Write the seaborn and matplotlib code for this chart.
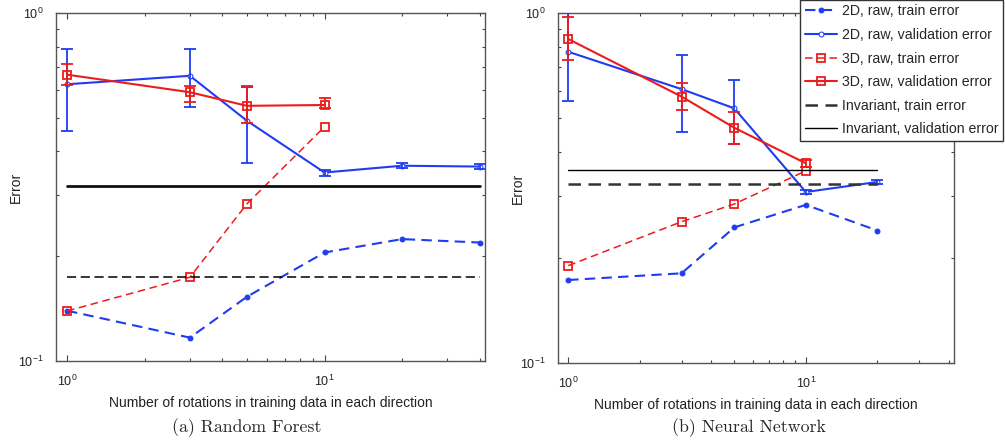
import numpy as np
import pandas as pd
import matplotlib
matplotlib.use("Agg")
import matplotlib.pyplot as plt
import seaborn as sns
from matplotlib.ticker import LogLocator, NullFormatter

sns.set_style("white")
plt.rcParams['font.family'] = ['Liberation Sans', 'DejaVu Sans']
plt.rcParams['mathtext.fontset'] = 'custom'
plt.rcParams['mathtext.rm'] = 'Liberation Sans'
plt.rcParams['mathtext.it'] = 'Liberation Sans'

# ---------------- data: Random Forest ----------------
rf_x_2d = [1, 3, 5, 10, 20, 40]
rf_2d_train = [0.1395, 0.1167, 0.153, 0.205, 0.224, 0.219]
rf_2d_val = [0.624, 0.660, 0.490, 0.348, 0.364, 0.362]
rf_2d_val_lo = [0.459, 0.536, 0.370, 0.341, 0.358, 0.357]
rf_2d_val_hi = [0.786, 0.786, 0.612, 0.355, 0.370, 0.367]

rf_x_3d = [1, 3, 5, 10]
rf_3d_train = [0.1392, 0.174, 0.283, 0.471]
rf_3d_val = [0.665, 0.592, 0.541, 0.544]
rf_3d_val_lo = [0.620, 0.556, 0.483, 0.532]
rf_3d_val_hi = [0.713, 0.616, 0.617, 0.571]

rf_x_inv = [1, 40]
rf_inv_train = 0.1747
rf_inv_val = 0.318

# ---------------- data: Neural Network ----------------
nn_x_2d = [1, 3, 5, 10, 20]
nn_2d_train = [0.1726, 0.1804, 0.244, 0.283, 0.239]
nn_2d_val = [0.775, 0.606, 0.534, 0.308, 0.329]
nn_2d_val_lo = [0.562, 0.458, 0.422, 0.303, 0.324]
nn_2d_val_hi = [1.0, 0.758, 0.644, 0.313, 0.334]

nn_x_3d = [1, 3, 5, 10]
nn_3d_train = [0.1897, 0.2533, 0.2846, 0.354]
nn_3d_val = [0.843, 0.577, 0.470, 0.372]
nn_3d_val_lo = [0.734, 0.528, 0.422, 0.364]
nn_3d_val_hi = [0.976, 0.632, 0.520, 0.380]

nn_x_inv = [1, 20]
nn_inv_train = 0.324
nn_inv_val = 0.356

labels = ["2D, raw, train error", "2D, raw, validation error",
          "3D, raw, train error", "3D, raw, validation error",
          "Invariant, train error", "Invariant, validation error"]
captions = ["(a) Random Forest", "(b) Neural Network"]
xlabel = "Number of rotations in training data in each direction"
ylabel = "Error"

BLUE = '#1f3cf0'
RED = '#ec1c1c'

fig = plt.figure(figsize=(10.05, 4.45), dpi=100)
ax1 = fig.add_axes([0.0557, 0.1888, 0.4269, 0.782])
ax2 = fig.add_axes([0.5552, 0.1843, 0.394, 0.7865])


def panel(ax, x2, tr2, v2, lo2, hi2, x3, tr3, v3, lo3, hi3, xinv, inv_tr, inv_val,
          inv_tr_style, inv_val_style, ylab_x):
    d = pd.DataFrame({'x': x2, 'y': tr2})
    sns.lineplot(data=d, x='x', y='y', ax=ax, color=BLUE, linestyle=(0, (5, 3)), lw=1.5,
                 marker='o', markersize=3.5, markeredgecolor=BLUE, markerfacecolor=BLUE,
                 label=labels[0], estimator=None)
    d = pd.DataFrame({'x': x2, 'y': v2})
    sns.lineplot(data=d, x='x', y='y', ax=ax, color=BLUE, linestyle='-', lw=1.5,
                 marker='o', markersize=3.5, markeredgecolor=BLUE, markerfacecolor='white',
                 label=labels[1], estimator=None)
    ax.errorbar(x2, v2, yerr=[np.array(v2) - np.array(lo2), np.array(hi2) - np.array(v2)],
                fmt='none', ecolor=BLUE, elinewidth=1.3, capsize=4, capthick=1.3)
    d = pd.DataFrame({'x': x3, 'y': tr3})
    sns.lineplot(data=d, x='x', y='y', ax=ax, color=RED, linestyle=(0, (5, 3)), lw=1.1,
                 marker='s', markersize=6.3, markeredgecolor=RED, markerfacecolor='none',
                 markeredgewidth=1.3, label=labels[2], estimator=None)
    d = pd.DataFrame({'x': x3, 'y': v3})
    sns.lineplot(data=d, x='x', y='y', ax=ax, color=RED, linestyle='-', lw=1.5,
                 marker='s', markersize=6.3, markeredgecolor=RED, markerfacecolor='none',
                 markeredgewidth=1.3, label=labels[3], estimator=None)
    ax.errorbar(x3, v3, yerr=[np.array(v3) - np.array(lo3), np.array(hi3) - np.array(v3)],
                fmt='none', ecolor=RED, elinewidth=1.3, capsize=4, capthick=1.3)
    d = pd.DataFrame({'x': xinv, 'y': [inv_tr] * len(xinv)})
    sns.lineplot(data=d, x='x', y='y', ax=ax, label=labels[4], estimator=None, **inv_tr_style)
    d = pd.DataFrame({'x': xinv, 'y': [inv_val] * len(xinv)})
    sns.lineplot(data=d, x='x', y='y', ax=ax, label=labels[5], estimator=None, **inv_val_style)

    ax.set_xscale('log')
    ax.set_yscale('log')
    ax.set_xlim(0.906, 42)
    ax.set_ylim(0.1, 1.0)
    ax.xaxis.set_major_locator(LogLocator(base=10, numticks=10))
    ax.yaxis.set_major_locator(LogLocator(base=10, numticks=10))
    ax.xaxis.set_minor_locator(LogLocator(base=10, subs=np.arange(2, 10), numticks=20))
    ax.yaxis.set_minor_locator(LogLocator(base=10, subs=np.arange(2, 10), numticks=20))
    ax.xaxis.set_minor_formatter(NullFormatter())
    ax.yaxis.set_minor_formatter(NullFormatter())
    ax.tick_params(which='both', direction='in', top=True, right=True, bottom=True, left=True,
                   colors='#444444', labelcolor='#222222', labelsize=9, width=0.8)
    ax.tick_params(which='major', length=4, pad=9)
    ax.tick_params(which='minor', length=2.5)
    for s in ax.spines.values():
        s.set_color('#555555')
        s.set_linewidth(1.0)
    ax.set_xlabel(xlabel, fontsize=10, color='#222222', labelpad=5)
    ax.set_ylabel(ylabel, fontsize=10, color='#222222')
    ax.yaxis.set_label_coords(ylab_x, 0.5)
    ax.get_legend().remove()


panel(ax1, rf_x_2d, rf_2d_train, rf_2d_val, rf_2d_val_lo, rf_2d_val_hi,
      rf_x_3d, rf_3d_train, rf_3d_val, rf_3d_val_lo, rf_3d_val_hi,
      rf_x_inv, rf_inv_train, rf_inv_val,
      dict(color='black', linestyle=(0, (6, 3)), lw=1.1),
      dict(color='#111111', linestyle='-', lw=2.0), -0.077)
panel(ax2, nn_x_2d, nn_2d_train, nn_2d_val, nn_2d_val_lo, nn_2d_val_hi,
      nn_x_3d, nn_3d_train, nn_3d_val, nn_3d_val_lo, nn_3d_val_hi,
      nn_x_inv, nn_inv_train, nn_inv_val,
      dict(color='#333333', linestyle=(0, (5, 3)), lw=1.8),
      dict(color='black', linestyle='-', lw=1.0), -0.084)

handles, labs = ax2.get_legend_handles_labels()
leg = fig.legend(handles, labs, loc='upper right', bbox_to_anchor=(0.998, 1.0),
                 fontsize=10.2, frameon=True, fancybox=False, edgecolor='#333333',
                 framealpha=1, handlelength=2.3, handletextpad=0.35, labelspacing=0.68,
                 borderpad=0.3, borderaxespad=0.0)
leg.get_frame().set_linewidth(1.0)

fig.text(0.245, 0.04, captions[0], fontsize=12.8, family=['cmr10', 'DejaVu Serif'],
         ha='center', va='center')
fig.text(0.745, 0.04, captions[1], fontsize=12.8, family=['cmr10', 'DejaVu Serif'],
         ha='center', va='center')

fig.savefig('out.png', dpi=100)
